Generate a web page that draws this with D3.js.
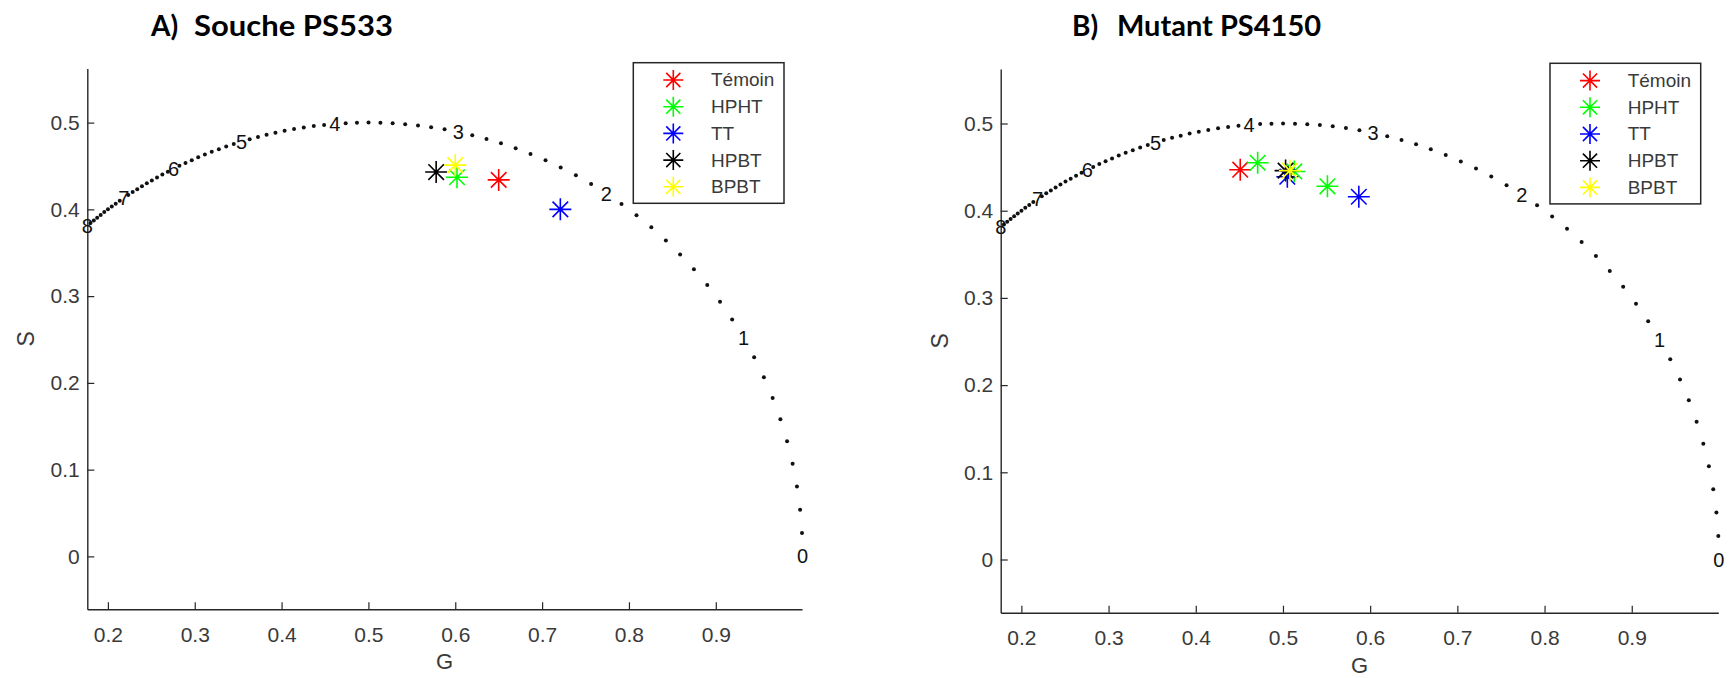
<!DOCTYPE html>
<html><head><meta charset="utf-8">
<script src="https://cdn.jsdelivr.net/npm/d3@7"></script>
<style>
html,body{margin:0;padding:0;background:#fff;}
svg{display:block;}
</style></head><body>
<svg id="chart" width="1731" height="678"></svg>
<script>
// ---------- data ----------
const omega = 0.2702; // angular modulation frequency (rad/ns)
const dotLifetimes = [
  0.1,0.2,0.3,0.4,0.5,0.6,0.7,0.8,0.9,
  1.1,1.2,1.3,1.4,1.5,1.6,1.7,1.8,1.9,
  2.1,2.2,2.3,2.4,2.5,2.6,2.7,2.8,2.9,
  3.1,3.2,3.3,3.4,3.5,3.6,3.7,3.8,3.9,
  4.1,4.2,4.3,4.4,4.5,4.6,4.7,4.8,4.9,
  5.1,5.2,5.3,5.4,5.5,5.6,5.7,5.8,5.9,
  6.1,6.2,6.3,6.4,6.5,6.6,6.7,6.8,6.9,
  7.1,7.2,7.3,7.4,7.5,7.6,7.7,7.8,7.9
];
const labelLifetimes = [0,1,2,3,4,5,6,7,8];
const xTicks = [0.2,0.3,0.4,0.5,0.6,0.7,0.8,0.9];
const yTicks = [0,0.1,0.2,0.3,0.4,0.5];
const yLimits = [-0.061, 0.5625];
const groups = ["Témoin","HPHT","TT","HPBT","BPBT"];
const groupColors = ["#ff0000","#00ff00","#0000ff","#000000","#ffff00"];
const titlePrefixes = ["A)","B)"];
const titleNames = ["Souche PS533","Mutant PS4150"];
const xLabel = "G";
const yLabel = "S";
// panel A (Souche PS533): one point per condition
const panelA_G = [[0.650],[0.602],[0.721],[0.578],[0.600]];
const panelA_S = [[0.434],[0.437],[0.400],[0.443],[0.451]];
// panel B (Mutant PS4150)
const panelB_G = [[0.451],[0.471,0.513,0.551],[0.505,0.587],[0.503],[0.508]];
const panelB_S = [[0.447],[0.455,0.445,0.428],[0.439,0.416],[0.446],[0.446]];

// ---------- helpers ----------
const phasorG = t => 1/(1+(omega*t)*(omega*t));
const phasorS = t => (omega*t)/(1+(omega*t)*(omega*t));
const asterisk = {
  draw(ctx, size){
    const r = Math.sqrt(size)/2, d = r*Math.SQRT1_2;
    ctx.moveTo(-r,0); ctx.lineTo(r,0);
    ctx.moveTo(0,-r); ctx.lineTo(0,r);
    ctx.moveTo(-d,-d); ctx.lineTo(d,d);
    ctx.moveTo(-d,d); ctx.lineTo(d,-d);
  }
};
const axisColor = "#262626";
const textColor = "#3a3a3a";
const svg = d3.select("#chart");

const panels = [
  {left:87.3,right:802,top:68.4,bottom:609.3, tX:151, nX:194, nW:199, legX:633.3, legY:62.7, G:panelA_G, S:panelA_S},
  {left:1000.7,right:1718.3,top:69,bottom:612.7, tX:1072, nX:1117, nW:204, legX:1550, legY:63.3, G:panelB_G, S:panelB_S}
];

const gExtent = d3.extent(dotLifetimes.concat([8]), phasorG);

panels.forEach((p, pi) => {
  const x = d3.scaleLinear().domain([gExtent[0], phasorG(0.1)]).range([p.left, p.right]);
  const y = d3.scaleLinear().domain(yLimits).range([p.bottom, p.top]);
  const g = svg.append("g");

  // title
  const tFont = "Lato, 'Open Sans', sans-serif";
  g.append("text").attr("x", p.tX).attr("y", 36)
    .attr("font-family", tFont).attr("font-weight","bold")
    .attr("font-size", 28).attr("fill","#000").text(titlePrefixes[pi]);
  g.append("text").attr("x", p.nX).attr("y", 36)
    .attr("font-family", tFont).attr("font-weight","bold")
    .attr("font-size", 28).attr("fill","#000")
    .attr("textLength", p.nW).attr("lengthAdjust","spacingAndGlyphs")
    .text(titleNames[pi]);

  // axes
  const xa = g.append("g").attr("transform",`translate(0,${p.bottom})`)
    .call(d3.axisBottom(x).tickValues(xTicks).tickSizeInner(-7).tickSizeOuter(0).tickPadding(17.5).tickFormat(d3.format(".1f")));
  const ya = g.append("g").attr("transform",`translate(${p.left},0)`)
    .call(d3.axisLeft(y).tickValues(yTicks).tickSizeInner(-7).tickSizeOuter(0).tickPadding(7.5).tickFormat(d => d===0 ? "0" : d3.format(".1f")(d)));
  [xa, ya].forEach(a => {
    a.selectAll("path.domain").attr("stroke", axisColor).attr("stroke-width", 1.4);
    a.selectAll(".tick line").attr("stroke", axisColor).attr("stroke-width", 1.2);
    a.selectAll(".tick text").attr("fill", textColor)
      .attr("font-family","'Liberation Sans', Arial, sans-serif").attr("font-size", 21);
  });

  // axis labels
  g.append("text").attr("x", (p.left+p.right)/2).attr("y", p.bottom+60)
    .attr("text-anchor","middle").attr("font-family","'Liberation Sans', Arial, sans-serif")
    .attr("font-size", 22).attr("fill", textColor).text(xLabel);
  g.append("text").attr("transform", `translate(${p.left-61},${(p.top+p.bottom)/2}) rotate(-90)`)
    .attr("text-anchor","middle").attr("dominant-baseline","central")
    .attr("font-family","'Liberation Sans', Arial, sans-serif")
    .attr("font-size", 23).attr("fill", textColor).text(yLabel);

  // semicircle dots
  g.append("g").selectAll("circle").data(dotLifetimes).join("circle")
    .attr("cx", t => x(phasorG(t))).attr("cy", t => y(phasorS(t)))
    .attr("r", 2).attr("fill", "#111");
  // lifetime labels
  g.append("g").selectAll("text").data(labelLifetimes).join("text")
    .attr("x", t => x(phasorG(t))).attr("y", t => y(phasorS(t)))
    .attr("text-anchor","middle").attr("dominant-baseline","central")
    .attr("font-family","'Liberation Sans', Arial, sans-serif").attr("font-size", 20)
    .attr("fill", "#111").text(t => t);

  // measured points
  const sym = d3.symbol().type(asterisk).size(22*22);
  groups.forEach((grp, gi) => {
    const pts = p.G[gi].map((gv, k) => [gv, p.S[gi][k]]);
    g.append("g").selectAll("path").data(pts).join("path")
      .attr("transform", d => `translate(${x(d[0])},${y(d[1])})`)
      .attr("d", sym).attr("fill","none").attr("stroke", groupColors[gi]).attr("stroke-width", 1.6);
  });

  // legend
  const leg = g.append("g").attr("transform", `translate(${p.legX},${p.legY})`);
  leg.append("rect").attr("x",0).attr("y",0).attr("width",150.7).attr("height",140.6)
    .attr("fill","#fff").attr("stroke", axisColor).attr("stroke-width",1.5);
  const legSym = d3.symbol().type(asterisk).size(20*20);
  groups.forEach((grp, gi) => {
    const ry = 17.3 + gi*26.7;
    leg.append("path").attr("transform", `translate(40,${ry})`).attr("d", legSym)
      .attr("fill","none").attr("stroke", groupColors[gi]).attr("stroke-width",1.6);
    leg.append("text").attr("x", 77.7).attr("y", ry).attr("dominant-baseline","central")
      .attr("font-family","'Liberation Sans', Arial, sans-serif").attr("font-size", 19)
      .attr("fill", textColor).text(grp);
  });
});
</script>
</body></html>
